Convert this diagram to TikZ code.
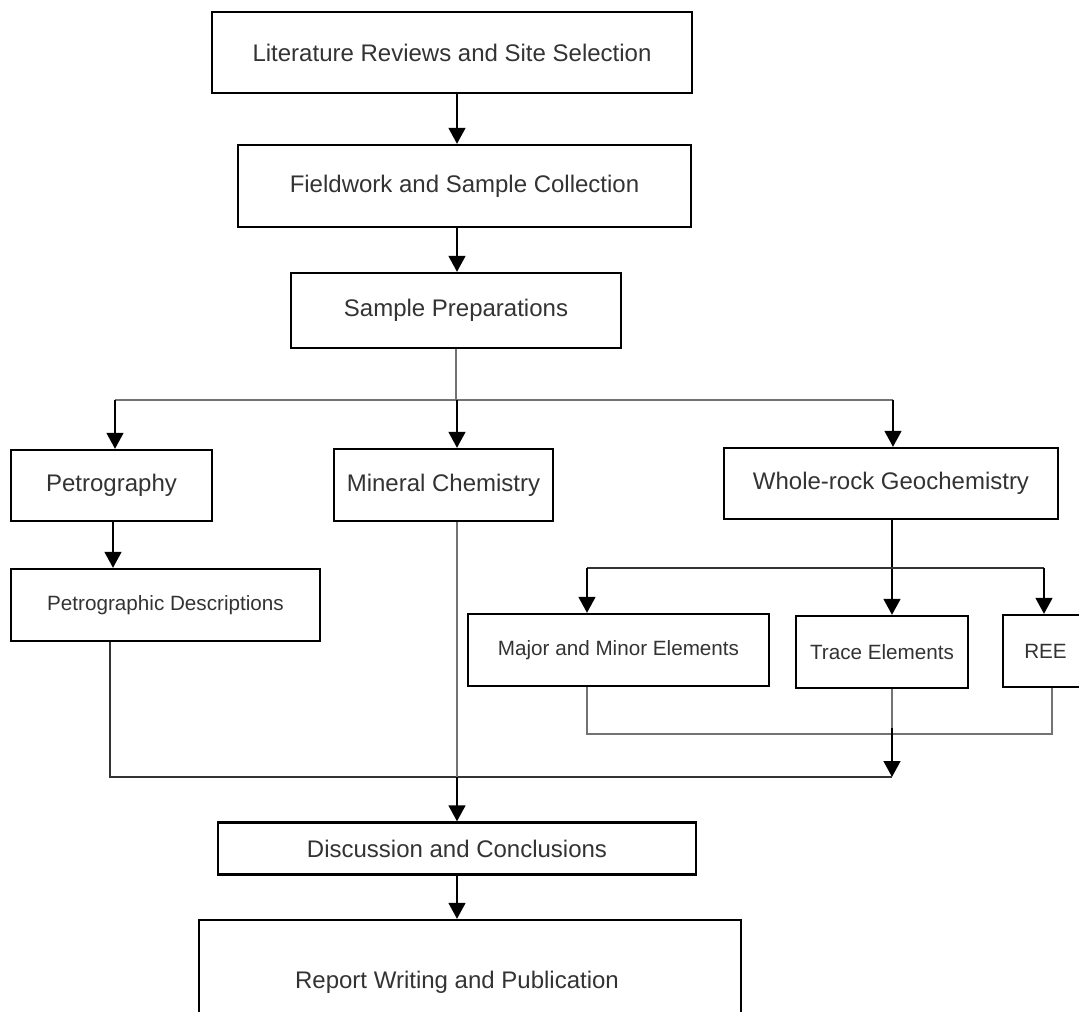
\documentclass[tikz,border=0pt]{standalone}
\usepackage{fontspec}
\setmainfont{Liberation Sans}
\usetikzlibrary{arrows.meta}
\begin{document}
\begin{tikzpicture}[x=0.75pt,y=-0.75pt,
  box/.style={draw=black,line width=1.7pt,inner sep=0pt,anchor=center,
    font=\fontsize{18}{22}\selectfont,text=black!80},
  sbox/.style={box,font=\fontsize{15.5}{19}\selectfont},
  arr/.style={line width=1.9pt,-{Triangle[length=12pt,width=12.5pt]}},
  thinl/.style={line width=0.8pt,draw=black!55},
  darkl/.style={line width=0.8pt,draw=black!80}]
\useasboundingbox (0,0) rectangle (1079,1012);
\node[box,minimum width=480*0.75pt,minimum height=81*0.75pt] (lit) at (452,52.5) {Literature Reviews and Site Selection};
\node[box,minimum width=453*0.75pt,minimum height=82*0.75pt] (field) at (464.5,186) {Fieldwork and Sample Collection};
\node[box,minimum width=330*0.75pt,minimum height=75*0.75pt] (prep) at (456,310.5) {Sample Preparations};
\node[box,minimum width=201*0.75pt,minimum height=71*0.75pt] (petro) at (111.5,485.5) {Petrography};
\node[box,minimum width=219*0.75pt,minimum height=72*0.75pt] (mineral) at (443.5,485) {Mineral Chemistry};
\node[box,minimum width=334*0.75pt,minimum height=71*0.75pt] (whole) at (891,483.5) {Whole-rock Geochemistry};
\node[sbox,minimum width=309*0.75pt,minimum height=72*0.75pt] (pdesc) at (165.5,605) {Petrographic Descriptions};
\node[sbox,minimum width=301*0.75pt,minimum height=72*0.75pt] (major) at (618.5,650) {Major and Minor Elements};
\node[sbox,minimum width=172*0.75pt,minimum height=72*0.75pt] (trace) at (882,652) {Trace Elements};
\node[sbox,minimum width=85*0.75pt,minimum height=72*0.75pt] (ree) at (1045.5,651) {REE};
\node[box,minimum width=478*0.75pt,minimum height=52*0.75pt] (disc) at (457,848.5) {Discussion and Conclusions};
\node[box,minimum width=542*0.75pt,minimum height=130*0.75pt] (report) at (470,985) {};
\node[font=\fontsize{18}{22}\selectfont,text=black!80] (reportlabel) at (457,982) {Report Writing and Publication};
% coordinates
\coordinate (c) at (457,0);
\coordinate (split) at (457,400);
\coordinate (wsplit) at (892,568);
\coordinate (join) at (892,734);
\coordinate (merge) at (457,777);
% top chain
\draw[arr] (c |- lit.south) -- (c |- field.north);
\draw[arr] (c |- field.south) -- (c |- prep.north);
\draw[thinl] (prep.south) -- (prep.south |- split);
\draw[thinl] (115,400) -- (893,400);
\draw[arr] (115,400) -- (115,0 |- petro.north);
\draw[arr] (split) -- (split |- mineral.north);
\draw[arr] (893,400) -- (893,0 |- whole.north);
\draw[arr] (113,0 |- petro.south) -- (113,0 |- pdesc.north);
% whole-rock branch
\draw[arr] (wsplit |- whole.south) -- (wsplit |- trace.north);
\draw[darkl] (587,568) -- (1044,568);
\draw[arr] (587,568) -- (587,0 |- major.north);
\draw[arr] (1044,568) -- (1044,0 |- ree.north);
% joins
\draw[thinl] (587,0 |- major.south) -- (587,734) -- (1052,734) -- (1052,0 |- ree.south);
\draw[thinl] (join |- trace.south) -- (join);
\draw[arr] (892,728) -- (892,777);
\draw[darkl] (110,0 |- pdesc.south) -- (110,777) -- (892,777);
\draw[thinl] (merge |- mineral.south) -- (merge);
\draw[arr] (merge) -- (merge |- disc.north);
\draw[arr] (c |- disc.south) -- (c |- report.north);
\end{tikzpicture}
\end{document}
